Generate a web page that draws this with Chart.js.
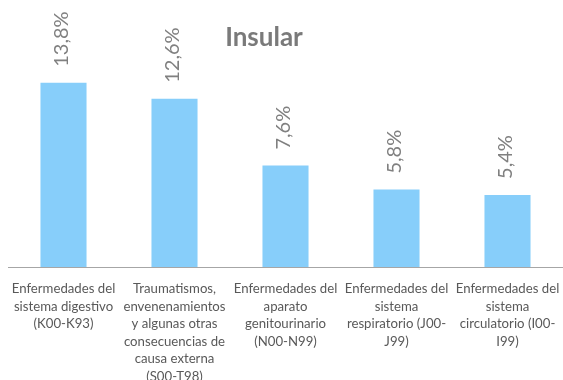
<!DOCTYPE html>
<html lang="es">
<head>
<meta charset="utf-8">
<script src="https://cdn.jsdelivr.net/npm/chart.js@4/dist/chart.umd.min.js"></script>
<style>
  html, body { margin: 0; padding: 0; background: #fff; }
  #wrap { width: 563px; height: 380px; position: relative; }
</style>
</head>
<body>
<div id="wrap"><canvas id="grafico"></canvas></div>
<script>
// Datos del gráfico
const titulo = 'Insular';
const categorias = [
    ['Enfermedades del', 'sistema digestivo', '(K00-K93)'],
    ['Traumatismos,', 'envenenamientos', 'y algunas otras', 'consecuencias de', 'causa externa', '(S00-T98)'],
    ['Enfermedades del', 'aparato', 'genitourinario', '(N00-N99)'],
    ['Enfermedades del', 'sistema', 'respiratorio (J00-', 'J99)'],
    ['Enfermedades del', 'sistema', 'circulatorio (I00-', 'I99)']
];
const porcentajes = [13.8, 12.6, 7.6, 5.8, 5.4];

const fuente = "Lato, 'Open Sans', sans-serif";

// Etiquetas de valor giradas sobre cada barra
const etiquetasValor = {
    id: 'etiquetasValor',
    afterDatasetsDraw(chart) {
        const ctx = chart.ctx;
        const meta = chart.getDatasetMeta(0);
        ctx.save();
        ctx.font = '20px ' + fuente;
        ctx.fillStyle = '#808080';
        ctx.textAlign = 'left';
        ctx.textBaseline = 'middle';
        meta.data.forEach((bar, i) => {
            const texto = porcentajes[i].toFixed(1).replace('.', ',') + '%';
            ctx.save();
            ctx.translate(bar.x - 2, bar.y - 16);
            ctx.rotate(-Math.PI / 2);
            ctx.fillText(texto, 0, 0);
            ctx.restore();
        });
        ctx.restore();
    }
};

// Título dibujado dentro del área del gráfico
const tituloInterno = {
    id: 'tituloInterno',
    afterDraw(chart) {
        const ctx = chart.ctx;
        ctx.save();
        ctx.font = 'bold 26px ' + fuente;
        ctx.fillStyle = '#7a7a7a';
        ctx.textAlign = 'center';
        ctx.textBaseline = 'middle';
        ctx.fillText(titulo, 264, 38);
        ctx.restore();
    }
};

new Chart(document.getElementById('grafico'), {
    type: 'bar',
    data: {
        labels: categorias,
        datasets: [{
            data: porcentajes,
            backgroundColor: '#87cefa',
            borderWidth: 0,
            categoryPercentage: 1,
            barPercentage: 0.415
        }]
    },
    options: {
        responsive: true,
        maintainAspectRatio: false,
        animation: false,
        layout: { padding: { left: 8, right: 0, top: 0, bottom: 0 } },
        plugins: {
            legend: { display: false },
            tooltip: { enabled: false }
        },
        scales: {
            x: {
                grid: { display: false },
                border: { display: true, color: '#a6a6a6', width: 1 },
                ticks: {
                    color: '#595959',
                    font: { family: fuente, size: 13.2, lineHeight: 1.33 },
                    maxRotation: 0,
                    minRotation: 0,
                    autoSkip: false,
                    padding: 5
                },
                afterFit(scale) {
                    // las etiquetas pueden salirse por los lados sin encoger el área
                    scale.height = 113;
                    scale.paddingLeft = 0;
                    scale.paddingRight = 0;
                }
            },
            y: {
                display: false,
                min: 0,
                max: 20
            }
        }
    },
    plugins: [etiquetasValor, tituloInterno]
});
</script>
</body>
</html>
